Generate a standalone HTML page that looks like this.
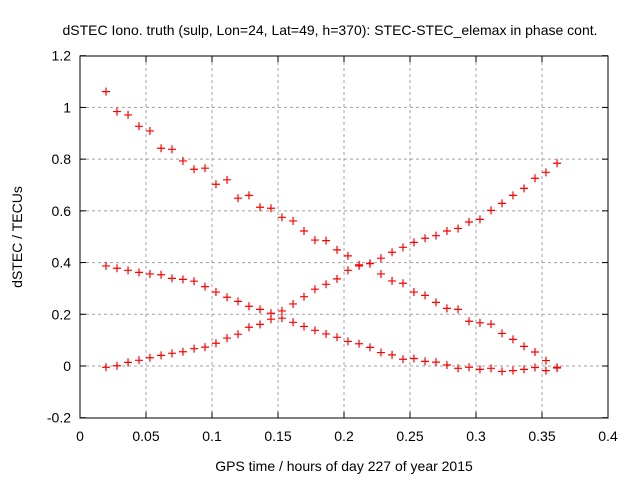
<!DOCTYPE html>
<html><head><meta charset="utf-8"><style>
body{margin:0;background:#fff;font-family:"Liberation Sans",sans-serif}
svg text{font-family:"Liberation Sans",sans-serif;font-size:14px;fill:#000}
</style></head><body>
<svg width="640" height="480" id="c">
<rect width="640" height="480" fill="#fff"/>
<text x="330" y="35" text-anchor="middle">dSTEC Iono. truth (sulp, Lon=24, Lat=49, h=370): STEC-STEC_elemax in phase cont.</text>
<text x="344" y="471" text-anchor="middle">GPS time / hours of day 227 of year 2015</text>
<text transform="translate(22,237) rotate(-90)" text-anchor="middle">dSTEC  / TECUs</text>
<g id="grid"></g><g id="marks"></g>
<rect x="80" y="56" width="528" height="362" fill="none" stroke="#000"/>
</svg>
<script>
const times=[0.0197,0.0280,0.0364,0.0447,0.0530,0.0614,0.0697,0.0780,0.0864,0.0947,0.1030,0.1114,0.1197,0.1280,0.1364,0.1447,0.1530,0.1614,0.1697,0.1780,0.1864,0.1947,0.2030,0.2114,0.2197,0.2280,0.2364,0.2447,0.2530,0.2614,0.2697,0.2780,0.2864,0.2947,0.3030,0.3114,0.3197,0.3280,0.3364,0.3447,0.3530,0.3614];
const seriesA=[1.061,0.984,0.971,0.927,0.909,0.842,0.838,0.793,0.761,0.765,0.703,0.720,0.649,0.660,0.614,0.610,0.575,0.561,0.522,0.487,0.485,0.449,0.426,0.391,0.397,0.356,0.329,0.320,0.286,0.273,0.246,0.223,0.219,0.173,0.167,0.162,0.126,0.103,0.076,0.054,0.021,-0.005];
const seriesB=[0.387,0.378,0.370,0.362,0.356,0.353,0.339,0.335,0.328,0.307,0.286,0.266,0.250,0.231,0.219,0.204,0.185,0.169,0.153,0.138,0.124,0.111,0.095,0.086,0.072,0.052,0.043,0.026,0.029,0.018,0.015,0.004,-0.009,-0.005,-0.013,-0.009,-0.021,-0.018,-0.013,-0.006,-0.018,-0.008];
const seriesC=[-0.005,0.001,0.014,0.022,0.032,0.041,0.049,0.055,0.067,0.073,0.088,0.108,0.123,0.150,0.161,0.181,0.213,0.240,0.268,0.297,0.316,0.337,0.370,0.387,0.396,0.417,0.440,0.459,0.478,0.494,0.504,0.522,0.532,0.557,0.567,0.602,0.629,0.660,0.687,0.726,0.749,0.784];
const xTicks=[0,0.05,0.1,0.15,0.2,0.25,0.3,0.35,0.4];
const xTickLabels=["0","0.05","0.1","0.15","0.2","0.25","0.3","0.35","0.4"];
const yTicks=[-0.2,0,0.2,0.4,0.6,0.8,1,1.2];
const yTickLabels=["-0.2","0","0.2","0.4","0.6","0.8","1","1.2"];
const NS="http://www.w3.org/2000/svg";
const X=v=>80+v*1320, Y=v=>366-v*258.57;
const grid=document.getElementById('grid'), marks=document.getElementById('marks');
function mk(t,a,p){const e=document.createElementNS(NS,t);for(const k in a)e.setAttribute(k,a[k]);p.appendChild(e);return e;}
xTicks.forEach((v,i)=>{const x=X(v);
 if(i>0&&i<xTicks.length-1){const l=mk('line',{x1:x,x2:x,y1:56,y2:418,stroke:'#a0a0a0','stroke-dasharray':'3,3'},grid);
 }
 const t1=mk('line',{x1:x,x2:x,y1:418,y2:412,stroke:'#000'},grid);
 const t2=mk('line',{x1:x,x2:x,y1:56,y2:62,stroke:'#000'},grid);
 const tx=mk('text',{x:x,y:441,'text-anchor':'middle'},grid);tx.textContent=xTickLabels[i];
 });
yTicks.forEach((v,i)=>{const y=Y(v);
 if(i>0&&i<yTicks.length-1){const l=mk('line',{x1:80,x2:608,y1:y,y2:y,stroke:'#a0a0a0','stroke-dasharray':'3,3'},grid);
 }
 const t1=mk('line',{x1:80,x2:86,y1:y,y2:y,stroke:'#000'},grid);
 const t2=mk('line',{x1:602,x2:608,y1:y,y2:y,stroke:'#000'},grid);
 const tx=mk('text',{x:71,y:y+5,'text-anchor':'end'},grid);tx.textContent=yTickLabels[i];
 });
[['a',seriesA],['b',seriesB],['c',seriesC]].forEach(([n,s])=>{
 s.forEach((v,i)=>{const x=X(times[i]),y=Y(v);
  const p=mk('path',{d:`M${x-4},${y}H${x+4}M${x},${y-4}V${y+4}`,stroke:'#f00','stroke-width':1.2,fill:'none'},marks);
  
  });});
</script>
</body></html>
